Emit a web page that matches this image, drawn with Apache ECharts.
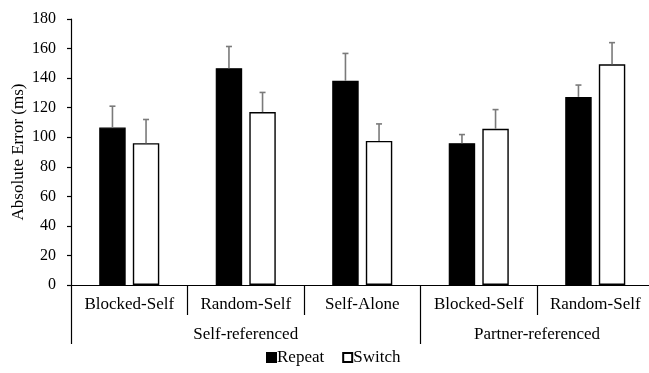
<!DOCTYPE html>
<html>
<head>
<meta charset="utf-8">
<style>
  html, body { margin: 0; padding: 0; background: #fff; }
  #chart { width: 649px; height: 373px; }
</style>
<script src="https://cdn.jsdelivr.net/npm/echarts@6/dist/echarts.min.js"></script>
</head>
<body>
<div id="chart"></div>
<script>
// Conditions along the x axis and the two reference groups beneath them
const categories = ['Blocked-Self', 'Random-Self', 'Self-Alone', 'Blocked-Self', 'Random-Self'];
const groupNames = ['Self-referenced', 'Partner-referenced'];
const groupSpans = [3, 2];

// Mean absolute error (ms) and its upper error bar length
const repeatValues = [106.5, 146.7, 138.2, 96.0, 127.3];
const repeatErrors = [14.5, 14.7, 18.5, 5.8, 8.0];
const switchValues = [96.0, 117.0, 97.5, 105.7, 149.3];
const switchErrors = [16.0, 13.3, 11.5, 13.0, 14.7];

const yTicks = [0, 20, 40, 60, 80, 100, 120, 140, 160, 180];

const FONT = '"Liberation Serif", "Times New Roman", serif';
const BAR_FRAC = 0.227;   // bar width as a share of the category band
const GAP_FRAC = 0.27;    // gap between paired bars as a share of bar width

// group boundaries and label centres in category units
const groupEdges = [0];
groupSpans.forEach(s => groupEdges.push(groupEdges[groupEdges.length - 1] + s));
const groupCenters = groupSpans.map((s, i) => groupEdges[i] + s / 2);
// category boundaries that sit inside a group
const innerEdges = [];
for (let i = 1; i < categories.length; i++) {
  if (groupEdges.indexOf(i) < 0) innerEdges.push(i);
}

function errorBars(values, errors, side) {
  return {
    type: 'custom',
    z: 5,
    silent: true,
    data: values.map((v, i) => [i, v, errors[i]]),
    renderItem: function (params, api) {
      const idx = api.value(0);
      const base = api.coord([idx, api.value(1)]);
      const top = api.coord([idx, api.value(1) + api.value(2)]);
      const band = api.size([1, 0])[0];
      const x = base[0] + side * band * BAR_FRAC * (1 + GAP_FRAC) / 2;
      const cap = 3;
      const style = { stroke: '#7a7a7a', lineWidth: 1.6 };
      return {
        type: 'group',
        children: [
          { type: 'line', shape: { x1: x, y1: base[1], x2: x, y2: top[1] }, style: style },
          { type: 'line', shape: { x1: x - cap, y1: top[1], x2: x + cap, y2: top[1] }, style: style }
        ]
      };
    }
  };
}

const tickLine = { color: '#000', width: 1.2 };

const chart = echarts.init(document.getElementById('chart'));
chart.setOption({
  animation: false,
  backgroundColor: '#fff',
  textStyle: { fontFamily: FONT, color: '#000' },
  grid: { left: 71, top: 19, width: 582.5, height: 266, containLabel: false, outerBoundsMode: 'none' },
  legend: {
    data: ['Repeat', 'Switch'],
    left: 266,
    top: 349,
    padding: 0,
    icon: 'rect',
    itemWidth: 9,
    itemHeight: 9,
    itemGap: 18,
    textStyle: { fontFamily: FONT, fontSize: 17, color: '#000', padding: [0, 0, 0, -4] }
  },
  xAxis: [
    {
      type: 'category',
      data: categories,
      position: 'bottom',
      axisLine: { lineStyle: tickLine },
      axisTick: { alignWithLabel: true, length: 3, lineStyle: tickLine },
      axisLabel: { fontFamily: FONT, fontSize: 17, color: '#000', margin: 11, interval: 0 },
      splitLine: { show: false }
    },
    {
      // dividers between conditions of the same group
      type: 'value',
      min: 0,
      max: categories.length,
      position: 'bottom',
      axisLine: { show: false },
      axisTick: { show: true, customValues: innerEdges, length: 30, lineStyle: tickLine },
      axisLabel: { show: false },
      splitLine: { show: false }
    },
    {
      // longer dividers between the two groups, with the group names
      type: 'value',
      min: 0,
      max: categories.length,
      position: 'bottom',
      axisLine: { show: false },
      axisTick: { show: true, customValues: groupEdges, length: 59, lineStyle: tickLine },
      axisLabel: {
        show: true,
        customValues: groupCenters,
        formatter: function (v) {
          const i = groupCenters.indexOf(v);
          return i >= 0 ? groupNames[i] : '';
        },
        fontFamily: FONT, fontSize: 17, color: '#000', margin: 41
      },
      splitLine: { show: false }
    }
  ],
  yAxis: {
    type: 'value',
    min: yTicks[0],
    max: yTicks[yTicks.length - 1],
    interval: yTicks[1] - yTicks[0],
    name: 'Absolute Error (ms)',
    nameLocation: 'middle',
    nameGap: 44,
    nameMoveOverlap: false,
    nameTextStyle: { fontFamily: FONT, fontSize: 17, color: '#000' },
    axisLine: { show: true, lineStyle: tickLine },
    axisTick: { show: true, length: 4, lineStyle: tickLine },
    axisLabel: { fontFamily: FONT, fontSize: 16, color: '#000', margin: 15 },
    splitLine: { show: false }
  },
  series: [
    {
      name: 'Repeat',
      type: 'bar',
      data: repeatValues,
      barWidth: (BAR_FRAC * 100) + '%',
      barGap: (GAP_FRAC * 100) + '%',
      itemStyle: { color: '#000', borderColor: '#000', borderWidth: 1.2 }
    },
    {
      name: 'Switch',
      type: 'bar',
      data: switchValues,
      barWidth: (BAR_FRAC * 100) + '%',
      barGap: (GAP_FRAC * 100) + '%',
      itemStyle: { color: '#fff', borderColor: '#000', borderWidth: 1.4 }
    },
    errorBars(repeatValues, repeatErrors, -1),
    errorBars(switchValues, switchErrors, 1)
  ]
});
</script>
</body>
</html>
